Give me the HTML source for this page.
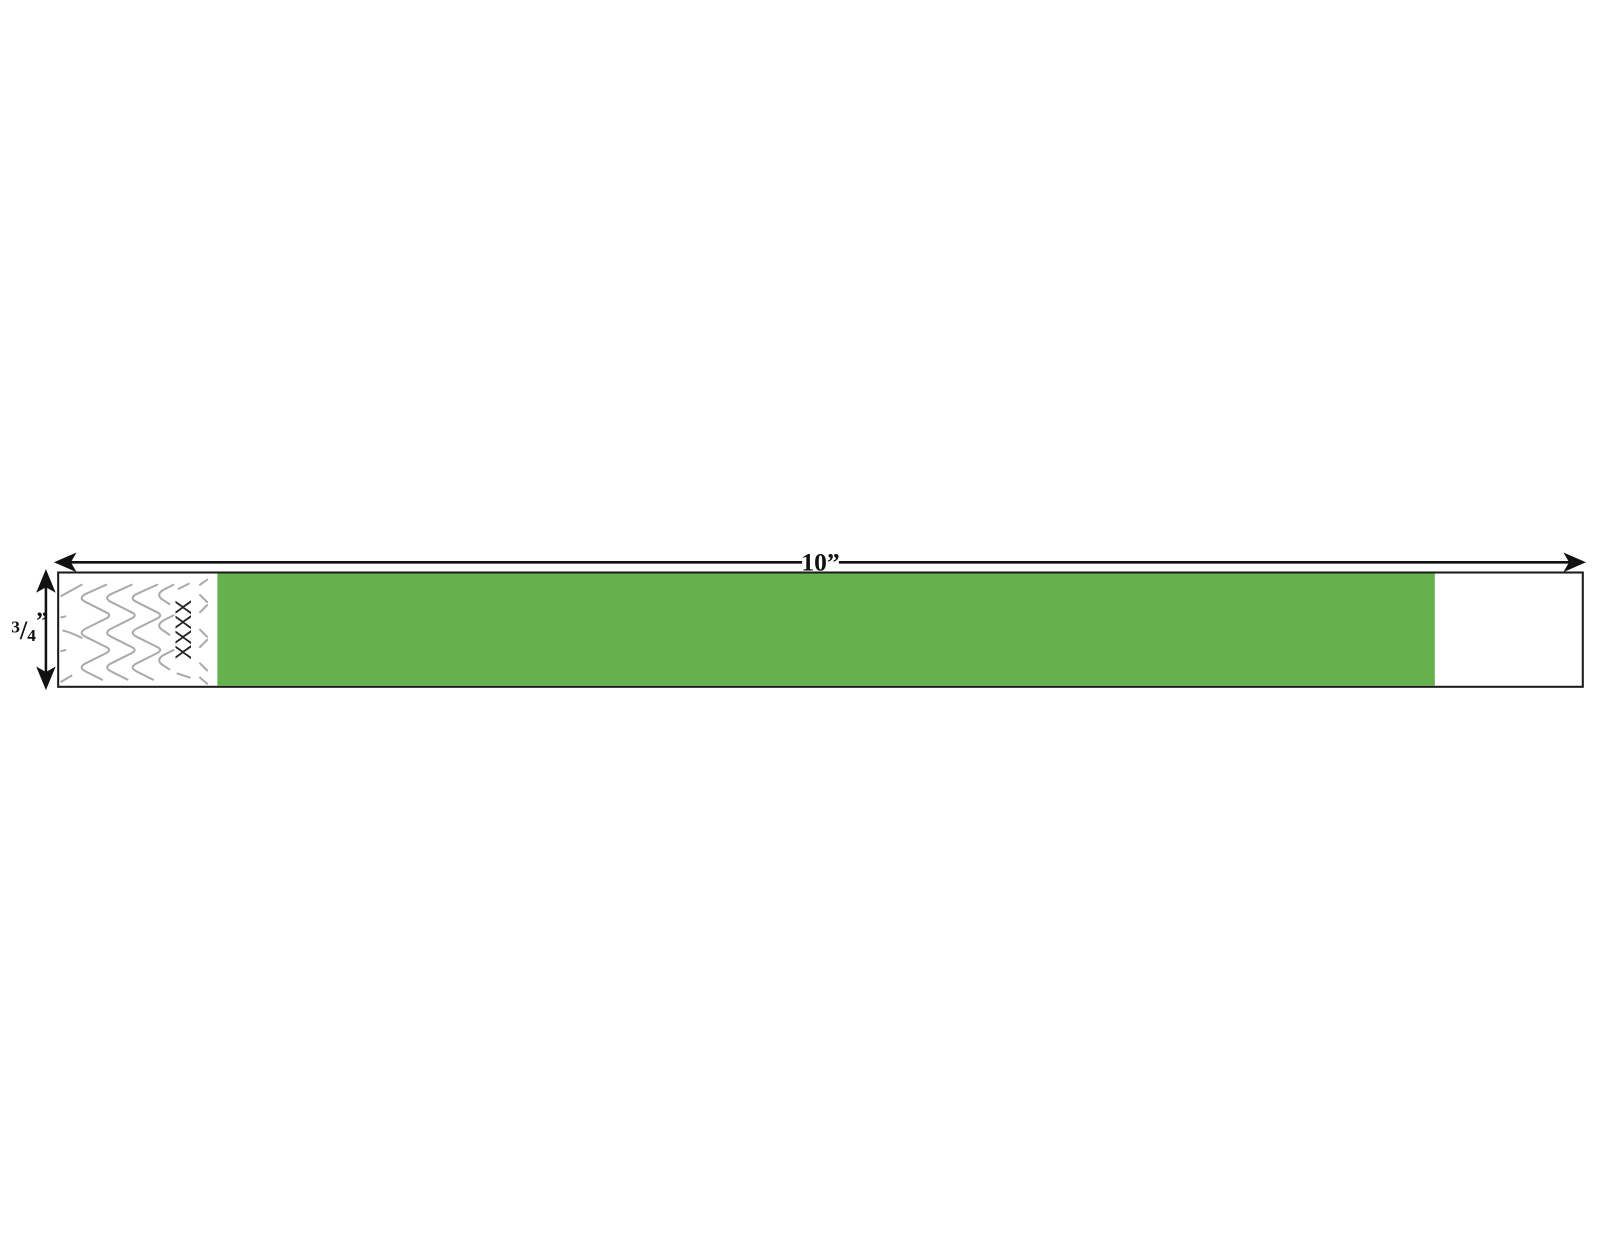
<!DOCTYPE html>
<html><head><style>html,body{margin:0;padding:0;background:#fff}svg{display:block}</style></head>
<body>
<svg width="1600" height="1238" viewBox="0 0 1600 1238" xmlns="http://www.w3.org/2000/svg">
<g transform="scale(1.0205)">
<rect x="57" y="561" width="1494" height="112" fill="#fff" stroke="#1a1a1a" stroke-width="2"/>
<rect x="213" y="562" width="1193" height="110" fill="#66b04d"/>
<g fill="none" stroke="#aaa" stroke-width="2" stroke-linecap="round">
  <path d="M80 573 L60 584"/>
  <path d="M80 625 Q70 620 62 618"/>
  <path d="M60 605 L64 604"/>
  <path d="M60 638 L64 637"/>
  <path d="M60 668 L70 662"/>
  <g id="c">
  <path d="M104 573 L84 582 Q76 586 84 590 L104 600 Q110 603 104 606 L84 616 Q76 620 84 624 L104 634 Q110 637 104 640 L84 650 Q76 654 84 658 L100 666"/>
  </g>
  <use href="#c" x="25"/>
  <use href="#c" x="50"/>
  <path d="M170 573 L160 578 Q152 583 160 588 L166 592"/>
  <path d="M170 603 L160 608 Q152 613 160 618 L166 622"/>
  <path d="M170 637 L160 642 Q152 647 160 652 L166 656"/>
  <path d="M175 577 L185 572"/>
  <path d="M196 573 L203 568"/>
  <path d="M196 583 L203 590"/>
  <path d="M196 600 L203 593"/>
  <path d="M196 617 L203 624"/>
  <path d="M196 634 L203 627"/>
  <path d="M196 650 L203 657"/>
  <path d="M174 660 L186 664"/>
  <path d="M196 664 L203 670"/>
</g>
<text x="0" y="0" transform="translate(180 617) rotate(-90)" text-anchor="middle" font-family="Liberation Sans, sans-serif" font-size="22" fill="#222" dominant-baseline="central">XXXX</text>
<g stroke="#111" stroke-width="2.5" fill="#111">
  <line x1="66" y1="551" x2="1541" y2="551"/>
  <path d="M56 551 L72 544 L68 551 L72 558 Z"/>
  <path d="M1551 551 L1535 544 L1539 551 L1535 558 Z"/>
  <line x1="45" y1="572" x2="45" y2="663"/>
  <path d="M45 561 L38 578 L45 574 L52 578 Z"/>
  <path d="M45 673 L38 656 L45 660 L52 656 Z"/>
</g>
<rect x="786" y="540" width="36" height="20" fill="#fff"/>
<text x="804" y="559" text-anchor="middle" font-family="Liberation Serif, serif" font-weight="900" font-size="25" fill="#111">10”</text>
<rect x="8" y="598" width="34" height="32" fill="#fff"/>
<text x="11" y="628" font-family="Liberation Serif, serif" font-weight="bold" font-size="17" fill="#111"><tspan dy="-8">3</tspan><tspan dy="6" font-size="26">/</tspan><tspan dy="2">4</tspan><tspan dy="-12" font-size="24">”</tspan></text>
</g>
</svg>
</body></html>
